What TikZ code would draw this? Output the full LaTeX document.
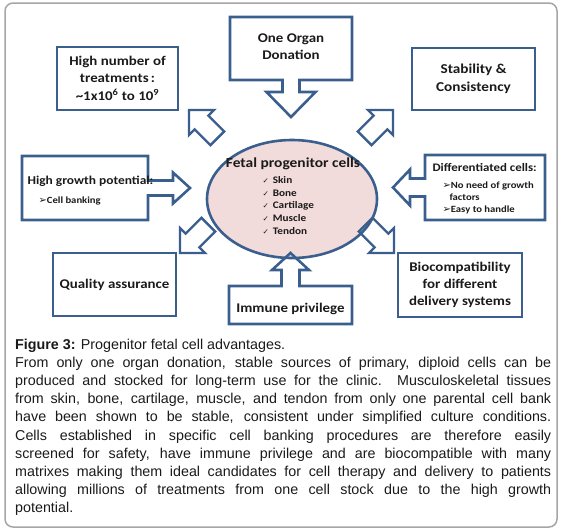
\documentclass[tikz,border=0pt]{standalone}
\usepackage{fontspec}
\setmainfont{Carlito}[FakeStretch=1.12]
\newfontfamily\capfont{Liberation Sans}
\newfontfamily\symfont{DejaVu Sans}
\usetikzlibrary{positioning, shapes.geometric, shapes.arrows, calc}
\definecolor{boxblue}{HTML}{3A5F8E}
\definecolor{cellpink}{HTML}{F2DCDB}
\definecolor{framegray}{HTML}{A6A6A6}
\definecolor{textdark}{HTML}{1A1A1A}
\newcommand{\pointer}{{\symfont\fontsize{10}{10}\selectfont ➢}}
\newcommand{\tick}{{\symfont\fontsize{7.5}{8}\selectfont ✓}\hspace{4pt}}

\begin{document}
\begin{tikzpicture}[x=1pt, y=-1pt,
  advbox/.style={draw=boxblue, line width=2.6pt, align=center, inner sep=0pt, text=textdark,
    font=\bfseries\fontsize{13.3}{17}\selectfont},
  hiddenbox/.style={inner sep=0pt, outer sep=0pt},
  calloutline/.style={draw=boxblue, line width=2.6pt},
  diagarrow/.style={single arrow, draw=boxblue, line width=2.4pt, minimum height=40pt,
    single arrow head extend=8pt, single arrow tip angle=90, inner xsep=0pt, inner ysep=8.5pt,
    outer sep=0pt, anchor=tip},
  itemtext/.style={font=\bfseries\fontsize{10}{12}\selectfont, text=textdark, anchor=base west},
  notetext/.style={font=\bfseries\fontsize{9.5}{12}\selectfont, text=textdark, anchor=base west}]

\useasboundingbox (0,0) rectangle (562,531);
\draw[framegray, line width=1.5pt, rounded corners=8pt] (5,3) rectangle (557,527);

% centre
\node[ellipse, draw=boxblue, line width=2.6pt, fill=cellpink, minimum width=170pt, minimum height=118pt] (cells) at (292,199) {};
\node[font=\bfseries\fontsize{13.8}{17}\selectfont, text=textdark, anchor=base] (celltitle) at (293,167.5) {Fetal progenitor cells};
\node[itemtext] (skin) at (259,183.5) {\tick Skin};
\node[itemtext] (bone) at (259,196) {\tick Bone};
\node[itemtext] (cartilage) at (259,208.5) {\tick Cartilage};
\node[itemtext] (muscle) at (259,221.5) {\tick Muscle};
\node[itemtext] (tendon) at (259,234.5) {\tick Tendon};

% plain boxes
\node[advbox, minimum width=121pt, minimum height=63pt] (treat) at (117.5,78.5)
  {High number of\\ treatments\,:\\[1pt] \textasciitilde1x10\textsuperscript{6} to 10\textsuperscript{9}};
\node[advbox, minimum width=123pt, minimum height=62pt, font=\bfseries\fontsize{13.6}{17.5}\selectfont] (stable) at (473.5,79) {Stability \&\\ Consistency};
\node[advbox, minimum width=123pt, minimum height=63pt] (quality) at (114.5,284.5) {Quality assurance};
\node[advbox, minimum width=124pt, minimum height=64pt] (biocomp) at (460,285) {Biocompatibility\\ for different\\ delivery systems};

% boxes with arrows
\node[hiddenbox, minimum width=122pt, minimum height=63pt, align=center, text=textdark,
  font=\bfseries\fontsize{13.3}{17}\selectfont] (organ) at (291,46.5) {One Organ\\ Donation};
\draw[calloutline] (230,80) -- (230,17) -- (352,17) -- (352,80) -- (299.5,80) -- ++(0,12) -- ++(16,0)
  -- ++(-24.5,25) -- ++(-24.5,-25) -- ++(16,0) -- ++(0,-12) -- cycle;

\node[hiddenbox, minimum width=123pt, minimum height=38pt] (immune) at (290.5,305) {};
\draw[calloutline] (immune.north west) -- ([xshift=-9pt]immune.north) -- ++(0,-16) -- ++(-9.5,0)
  -- ++(18.5,-17) -- ++(18.5,17) -- ++(-9.5,0) -- ++(0,16) -- (immune.north east)
  -- (immune.south east) -- (immune.south west) -- cycle;
\node[font=\bfseries\fontsize{13.3}{17}\selectfont, text=textdark, anchor=base] (immunetxt) at (290.5,312.5) {Immune privilege};

\node[hiddenbox, minimum width=126pt, minimum height=64pt] (growth) at (85,188) {};
\draw[calloutline] (growth.south west) -- (growth.north west) -- (growth.north east) -- ([yshift=7.5pt]growth.east)
  -- ++(25,0) -- ++(0,-8) -- ++(17,15.5) -- ++(-17,15.5) -- ++(0,-8) -- ++(-25,0)
  -- (growth.south east) -- cycle;
\node[font=\bfseries\fontsize{12}{14}\selectfont, text=textdark, anchor=base west] (growthtxt) at (24,184) {High growth potential:};
\node[notetext] (banking) at (35,203.5) {\pointer Cell banking};

\node[hiddenbox, minimum width=120pt, minimum height=65pt] (diff) at (485,187.5) {};
\draw[calloutline] (diff.north east) -- (diff.north west) -- ([yshift=9pt]diff.west) -- ++(-15,0) -- ++(0,-9)
  -- ++(-17,18) -- ++(17,18) -- ++(0,-9) -- ++(15,0) -- (diff.south west) -- (diff.south east) -- cycle;
\node[font=\bfseries\fontsize{11.5}{14}\selectfont, text=textdark, anchor=base west] (difftxt) at (429,171) {Differentiated cells:};
\node[notetext] (nogrowth) at (439,188.5) {\pointer No need of growth};
\node[notetext] (factors) at (446,200.5) {factors};
\node[notetext] (handle) at (439,212.5) {\pointer Easy to handle};

% diagonal arrows
\node[diagarrow, rotate=135] (toTreat) at (189,110) {};
\node[diagarrow, rotate=45] (toStable) at (393,110) {};
\node[diagarrow, rotate=225] (toQuality) at (180,253) {};
\node[diagarrow, rotate=-45] (toBiocomp) at (394,253) {};

% caption
\node[anchor=north west, inner sep=0pt, text width=536pt, align=justify,
  font=\capfont\fontsize{14.3}{18.2}\selectfont, text=textdark] (caption) at (15,338.5)
  {\textbf{Figure 3:} Progenitor fetal cell advantages.\\
  From only one organ donation, stable sources of primary, diploid cells can be\linebreak
  produced and stocked for long-term use for the clinic.\ \ Musculoskeletal tissues\linebreak
  from skin, bone, cartilage, muscle, and tendon from only one parental cell bank\linebreak
  have been shown to be stable, consistent under simplified culture conditions.\linebreak
  Cells established in specific cell banking procedures are therefore easily\linebreak
  screened for safety, have immune privilege and are biocompatible with many\linebreak
  matrixes making them ideal candidates for cell therapy and delivery to patients\linebreak
  allowing millions of treatments from one cell stock due to the high growth\linebreak
  potential.};
\end{tikzpicture}
\end{document}
